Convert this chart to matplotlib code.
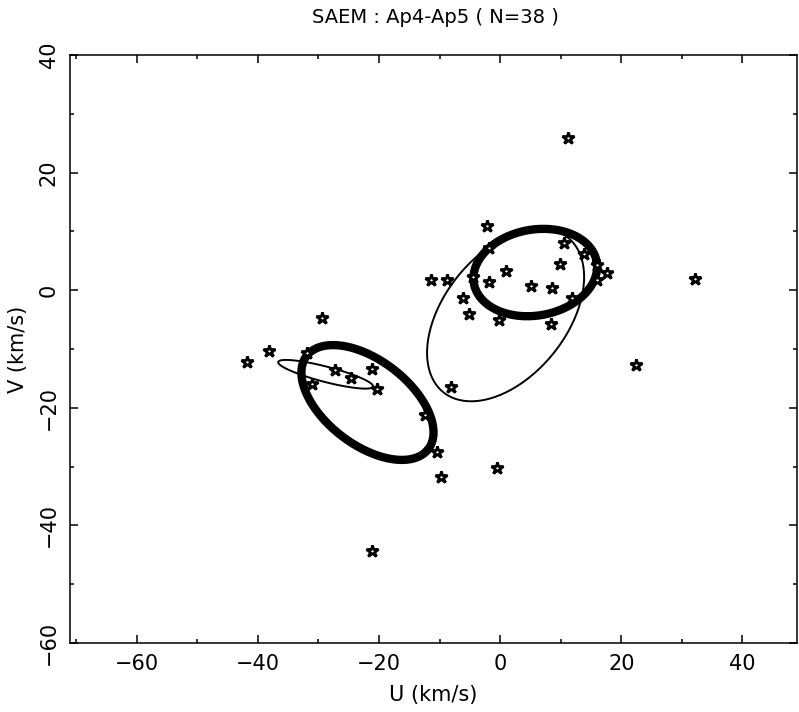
import numpy as np
import matplotlib
matplotlib.use('Agg')
import matplotlib.pyplot as plt
from matplotlib.ticker import MultipleLocator

# star velocities (U, V) in km/s
u_stars = [-41.8, -38.2, -29.4, -31.9, -27.3, -24.6, -21.2, -20.3, -31.0,
           -10.4, -9.8, -8.1, -21.2, -12.4,
           11.2, 32.2, 22.5, -0.5,
           -2.2, 10.6, -1.8, 13.8, 9.9, 0.9, 17.6, -11.4, -8.8, -4.5,
           -1.9, 5.1, 8.6, 16.0, 16.0, -6.2, 11.8, -5.1, -0.2, 8.4]
v_stars = [-12.2, -10.4, -4.8, -10.6, -13.5, -14.9, -13.4, -16.8, -16.0,
           -27.6, -31.8, -16.5, -44.4, -21.3,
           25.9, 1.9, -12.8, -30.3,
           10.9, 8.0, 7.1, 6.2, 4.5, 3.3, 2.9, 1.7, 1.7, 2.2,
           1.4, 0.7, 0.4, 1.7, 4.3, -1.3, -1.3, -4.0, -5.0, -5.8]

# fitted components: centre, semi-axes, position angle (deg)
ell_u0 = [-21.9, 5.8, 0.9, -28.8]
ell_v0 = [-19.1, 3.0, -4.2, -14.3]
ell_a = [12.8, 10.3, 16.7, 8.1]
ell_b = [7.1, 7.3, 10.25, 1.3]
ell_ang = [-39.0, 11.0, 53.0, -15.0]
ell_lw = [6.0, 6.0, 1.4, 1.4]


def ellipse_xy(u0, v0, a, b, ang):
    """
    points along an ellipse in data coordinates
    """
    t = np.linspace(0, 2 * np.pi, 400)
    th = np.radians(ang)
    x = a * np.cos(t) * np.cos(th) - b * np.sin(t) * np.sin(th)
    y = a * np.cos(t) * np.sin(th) + b * np.sin(t) * np.cos(th)
    return u0 + x, v0 + y


fig = plt.figure(figsize=(7.99, 7.12), dpi=100)
ax = fig.add_axes([0.0876, 0.0969, 0.9099, 0.8259])

for i in range(len(ell_u0)):
    x, y = ellipse_xy(ell_u0[i], ell_v0[i], ell_a[i], ell_b[i], ell_ang[i])
    ax.plot(x, y, color='black', lw=ell_lw[i], solid_capstyle='round')

ax.plot(u_stars, v_stars, linestyle='none', marker='*', markersize=9,
        markerfacecolor='white', markeredgecolor='black', markeredgewidth=2.0)

ax.set_xlim(-71, 49)
ax.set_ylim(-60, 40)
ax.xaxis.set_major_locator(MultipleLocator(20))
ax.xaxis.set_minor_locator(MultipleLocator(10))
ax.yaxis.set_major_locator(MultipleLocator(20))
ax.yaxis.set_minor_locator(MultipleLocator(10))
ax.tick_params(which='both', direction='in', top=True, right=True, width=1.1,
               labelsize=15, pad=8)
ax.tick_params(which='major', length=5.5)
ax.tick_params(which='minor', length=3)
for label in ax.get_yticklabels():
    label.set_rotation(90)
    label.set_va('center')
for s in ax.spines.values():
    s.set_linewidth(1.1)

ax.set_xlabel('U (km/s)', fontsize=15, labelpad=8)
ax.set_ylabel('V (km/s)', fontsize=15, labelpad=8)
fig.text(0.545, 0.975, 'SAEM : Ap4-Ap5 ( N=38 )', ha='center', va='center',
         fontsize=14)

fig.savefig('out.png', dpi=100)
